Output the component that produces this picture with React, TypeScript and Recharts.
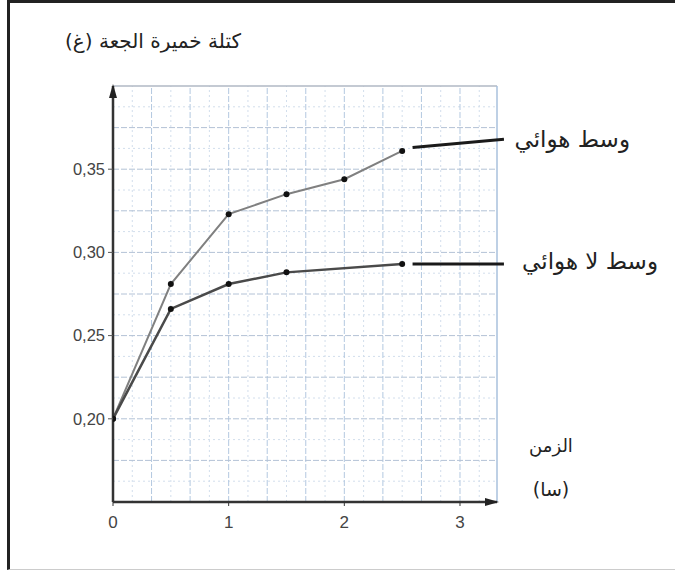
import React from "react";
import {
  LineChart,
  Line,
  XAxis,
  YAxis,
  ReferenceLine,
  ReferenceDot,
} from "recharts";

// data (time in hours, mass in g)
const aerobicTime = [0, 0.5, 1, 1.5, 2, 2.5];
const aerobicMass = [0.2, 0.281, 0.323, 0.335, 0.344, 0.361];
const anaerobicTime = [0, 0.5, 1, 1.5, 2.5];
const anaerobicMass = [0.2, 0.266, 0.281, 0.288, 0.293];

// leader lines going to the series labels
const aerobicLeader = [
  { x: 2.59, y: 0.363 },
  { x: 3.38, y: 0.368 },
];
const anaerobicLeader = [
  { x: 2.59, y: 0.293 },
  { x: 3.38, y: 0.293 },
];

const xTicks = [0, 1, 2, 3];
const yTicks = [0.2, 0.25, 0.3, 0.35];
const xDomain: [number, number] = [0, 3.32];
const yDomain: [number, number] = [0.15, 0.4];

// graph paper
const gridX = [1, 2, 3, 4, 5, 6, 7, 8, 9].map((i) => i / 3);
const gridY = [0.175, 0.2, 0.225, 0.25, 0.275, 0.3, 0.325, 0.35, 0.375];
const minorX = [1, 3, 5, 7, 9, 11, 13, 15, 17, 19].map((i) => i / 6);
const minorY = [0.1625, 0.1875, 0.2125, 0.2375, 0.2625, 0.2875, 0.3125, 0.3375, 0.3625, 0.3875];

const aerobic = aerobicTime.map((t, i) => ({ t, m: aerobicMass[i] }));
const anaerobic = anaerobicTime.map((t, i) => ({ t, m: anaerobicMass[i] }));

const arabic = "'DejaVu Sans', sans-serif";

const UpArrow = (props: any) => {
  const { cx, cy } = props;
  return <polygon points={`${cx},${cy - 2} ${cx - 4},${cy + 12} ${cx + 4},${cy + 12}`} fill="#222" />;
};

const RightArrow = (props: any) => {
  const { cx, cy } = props;
  return <polygon points={`${cx + 2},${cy} ${cx - 12},${cy - 4} ${cx - 12},${cy + 4}`} fill="#222" />;
};

const BlackDot = (props: any) => {
  const { cx, cy } = props;
  return <circle cx={cx} cy={cy} r={3} fill="#111" />;
};

export default function App() {
  const textStyle: React.CSSProperties = {
    position: "absolute",
    fontFamily: arabic,
    color: "#222",
    direction: "rtl",
    unicodeBidi: "embed",
    whiteSpace: "nowrap",
  };

  return (
    <div
      style={{
        position: "fixed",
        left: 0,
        top: 0,
        width: 675,
        height: 572,
        background: "#fff",
        overflow: "hidden",
      }}
    >
      <div
        style={{
          position: "absolute",
          left: 7,
          top: 0,
          width: 668,
          height: 570,
          borderTop: "3px solid #222",
          borderLeft: "3px solid #222",
          borderBottom: "1px solid #ccc",
          boxSizing: "border-box",
        }}
      />
      <LineChart
        width={675}
        height={572}
        margin={{ top: 86, right: 178, bottom: 0, left: 0 }}
        style={{ position: "absolute", left: 0, top: 0 }}
      >
        <XAxis
          type="number"
          dataKey="t"
          domain={xDomain}
          ticks={xTicks}
          allowDataOverflow
          axisLine={{ stroke: "#333", strokeWidth: 2.5 }}
          tickLine={{ stroke: "#333" }}
          tickSize={4}
          tickMargin={10}
          tick={{ fill: "#444", fontSize: 17, fontFamily: "'Liberation Sans', Arial" }}
          height={70}
        />
        <YAxis
          type="number"
          dataKey="m"
          domain={yDomain}
          ticks={yTicks}
          allowDataOverflow
          axisLine={{ stroke: "#333", strokeWidth: 2.5 }}
          tickLine={{ stroke: "#555" }}
          tickSize={5}
          tickMargin={3}
          tickFormatter={(v: number) => v.toFixed(2).replace(".", ",")}
          tick={{ fill: "#444", fontSize: 16.5, fontFamily: "'Liberation Sans', Arial" }}
          width={113}
        />
        {minorX.map((v) => (
          <ReferenceLine key={"mx" + v} x={v} stroke="#d2deec" strokeDasharray="2 3" strokeWidth={1} />
        ))}
        {minorY.map((v) => (
          <ReferenceLine key={"my" + v} y={v} stroke="#d2deec" strokeDasharray="2 3" strokeWidth={1} />
        ))}
        {gridX.map((v) => (
          <ReferenceLine key={"gx" + v} x={v} stroke="#b3c8e0" strokeDasharray="6 2" strokeWidth={1} />
        ))}
        {gridY.map((v) => (
          <ReferenceLine key={"gy" + v} y={v} stroke="#b3c2d6" strokeDasharray="6 2" strokeWidth={1} />
        ))}
        <ReferenceLine y={yDomain[1]} stroke="#b0b8c4" strokeWidth={1.5} />
        <ReferenceLine x={xDomain[1]} stroke="#a9c0dc" strokeWidth={1.5} />

        <Line
          data={aerobic}
          dataKey="m"
          stroke="#808080"
          strokeWidth={2}
          dot={<BlackDot />}
          isAnimationActive={false}
        />
        <Line
          data={anaerobic}
          dataKey="m"
          stroke="#4a4a4a"
          strokeWidth={2.5}
          dot={<BlackDot />}
          isAnimationActive={false}
        />
        <ReferenceLine
          segment={aerobicLeader}
          stroke="#1a1a1a"
          strokeWidth={3}
          ifOverflow="visible"
        />
        <ReferenceLine
          segment={anaerobicLeader}
          stroke="#1a1a1a"
          strokeWidth={3}
          ifOverflow="visible"
        />
        <ReferenceDot x={0} y={yDomain[1]} shape={<UpArrow />} ifOverflow="visible" />
        <ReferenceDot x={xDomain[1]} y={yDomain[0]} shape={<RightArrow />} ifOverflow="visible" />
      </LineChart>

      <div style={{ ...textStyle, left: 58, top: 29, width: 190, textAlign: "center", fontSize: 20 }}>
        كتلة خميرة الجعة (غ)
      </div>
      <div style={{ ...textStyle, left: 506, top: 126, width: 124, textAlign: "right", fontSize: 23 }}>
        وسط هوائي
      </div>
      <div style={{ ...textStyle, left: 506, top: 248, width: 152, textAlign: "right", fontSize: 23 }}>
        وسط لا هوائي
      </div>
      <div style={{ ...textStyle, left: 520, top: 435, width: 62, textAlign: "center", fontSize: 18 }}>
        الزمن
      </div>
      <div style={{ ...textStyle, left: 520, top: 478, width: 62, textAlign: "center", fontSize: 19 }}>
        (سا)
      </div>
    </div>
  );
}
